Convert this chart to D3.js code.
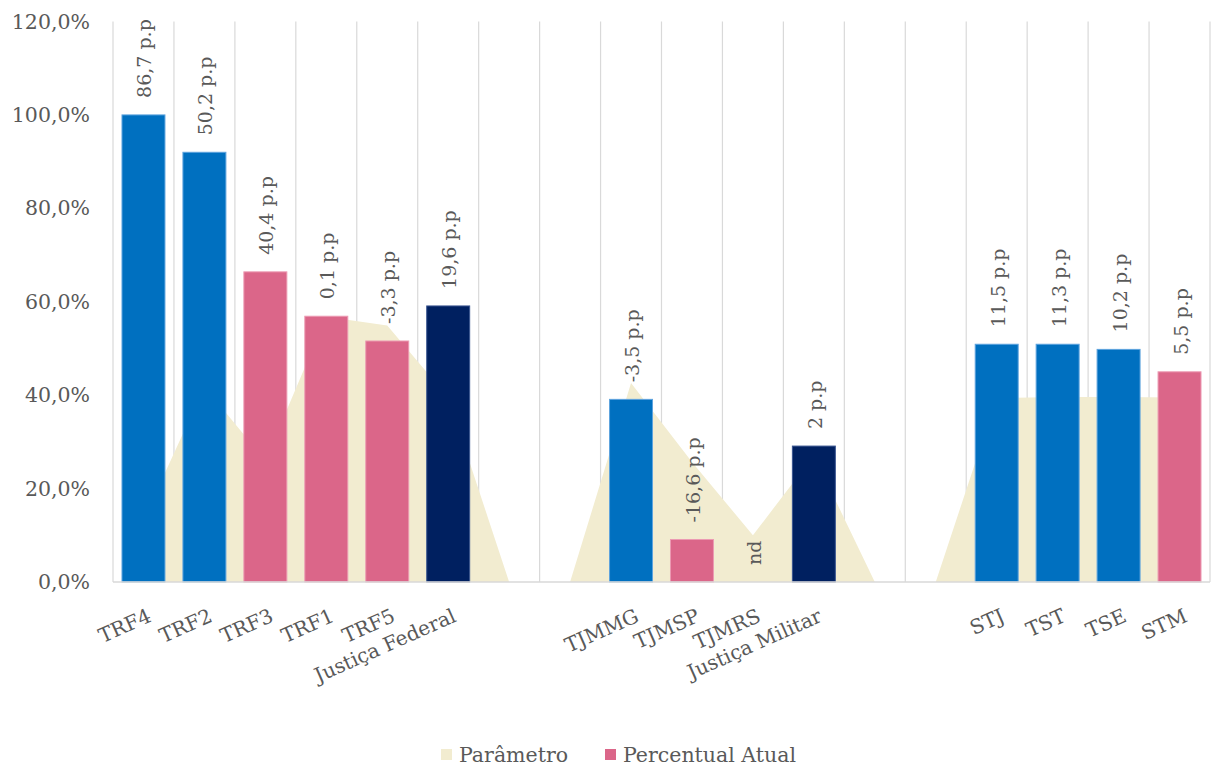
<!DOCTYPE html>
<html><head><meta charset="utf-8">
<script src="https://cdn.jsdelivr.net/npm/d3@7"></script>
<style>
html,body{margin:0;padding:0;background:#fff;}
svg{display:block;}
text{font-family:"DejaVu Serif","Liberation Serif",serif;fill:#595959;}
</style></head>
<body>
<svg id="chart" width="1211" height="766"></svg>
<script>
// ---- data ----
const categories = ["TRF4","TRF2","TRF3","TRF1","TRF5","Justiça Federal","","","TJMMG","TJMSP","TJMRS","Justiça Militar","","","STJ","TST","TSE","STM"];
const percentualAtual = [100.0, 92.0, 66.4, 56.9, 51.6, 59.1, null, null, 39.1, 9.1, null, 29.1, null, null, 50.9, 50.9, 49.8, 45.0];
const parametro = [13.3, 41.8, 26.0, 56.8, 54.9, 39.5, 0, 0, 42.6, 25.7, 10.0, 27.1, 0, 0, 39.4, 39.6, 39.6, 39.5];
const rotulos = ["86,7 p.p","50,2 p.p","40,4 p.p","0,1 p.p","-3,3 p.p","19,6 p.p","","","-3,5 p.p","-16,6 p.p","nd","2 p.p","","","11,5 p.p","11,3 p.p","10,2 p.p","5,5 p.p"];
const grupo = ["acima","acima","atual","atual","atual","total","","","acima","atual","","total","","","acima","acima","acima","atual"];
const yTicks = [0, 20, 40, 60, 80, 100, 120];
const legendItems = ["Parâmetro","Percentual Atual"];

// ---- layout ----
const svg = d3.select("#chart");
const L = 113, R = 1210, T = 21.5, B = 582;
const idx = categories.map((_, i) => i);
const x = d3.scaleBand().domain(idx).range([L, R]).paddingInner(0.3).paddingOuter(0.15);
const xc = i => x(i) + x.bandwidth() / 2;
const step = x.step();
const y = d3.scaleLinear().domain([0, 120]).range([B, T]);
const color = d3.scaleOrdinal().domain(["acima","atual","total"]).range(["#0070C0","#DB6689","#002060"]);
const stroke = d3.scaleOrdinal().domain(["acima","atual","total"]).range(["#5DA3DE","#EC9AB2","#3A5590"]);

// vertical gridlines at category boundaries
const bounds = d3.range(categories.length + 1).map(k => L + k * (R - L) / categories.length);
svg.append("g").selectAll("line").data(bounds).join("line")
  .attr("x1", d => d).attr("x2", d => d).attr("y1", T).attr("y2", B)
  .attr("stroke", "#D9D9D9").attr("stroke-width", 1.2);

// x band recalculated so centers match boundaries
const xs = d3.scaleBand().domain(idx).range([L, R]).paddingInner(0.3).paddingOuter(0.15);
const cx = i => L + (i + 0.5) * (R - L) / categories.length;
const bw = (R - L) / categories.length * 0.705;

// area (Parâmetro)
const area = d3.area().x((d, i) => cx(i)).y0(y(0)).y1(d => y(d));
svg.append("path").datum(parametro).attr("d", area).attr("fill", "#F2ECD0");

// bars
svg.append("g").selectAll("rect").data(percentualAtual.map((v, i) => ({v, i}))).join("rect")
  .filter(d => d.v != null)
  .attr("x", d => cx(d.i) - bw / 2).attr("width", bw)
  .attr("y", d => y(d.v)).attr("height", d => y(0) - y(d.v))
  .attr("fill", d => color(grupo[d.i]))
  .attr("stroke", d => stroke(grupo[d.i])).attr("stroke-width", 1);

// x axis line
svg.append("line").attr("x1", L).attr("x2", R).attr("y1", B).attr("y2", B)
  .attr("stroke", "#D9D9D9").attr("stroke-width", 1.5);

// data labels
svg.append("g").selectAll("text").data(rotulos.map((t, i) => ({t, i}))).join("text")
  .filter(d => d.t !== "")
  .attr("transform", d => {
    const v = percentualAtual[d.i] == null ? 0 : percentualAtual[d.i];
    return `translate(${cx(d.i) + 1},${y(v) - 17}) rotate(-90)`;
  })
  .attr("text-anchor", "start").attr("dominant-baseline", "central")
  .style("font-size", "19px")
  .text(d => d.t);

// y axis labels
const fmt = v => d3.format(".1f")(v).replace(".", ",") + "%";
svg.append("g").selectAll("text").data(yTicks).join("text")
  .attr("x", 90).attr("y", d => y(d)).attr("text-anchor", "end").attr("dominant-baseline", "central")
  .style("font-size", "20.5px").text(fmt);

// category labels
svg.append("g").selectAll("text").data(categories.map((c, i) => ({c, i}))).join("text")
  .filter(d => d.c !== "")
  .attr("transform", d => `translate(${cx(d.i) + 3},${607}) rotate(-24)`)
  .attr("text-anchor", "end").attr("dominant-baseline", "hanging")
  .style("font-size", "20px").text(d => d.c);

// legend
const lg = svg.append("g");
const lx = [441, 605];
const lcol = ["#F2ECD0", "#DB6689"];
legendItems.forEach((t, k) => {
  lg.append("rect").attr("x", lx[k]).attr("y", 749).attr("width", 11).attr("height", 11).attr("fill", lcol[k]);
  lg.append("text").attr("x", lx[k] + 18).attr("y", 755).attr("dominant-baseline", "central")
    .style("font-size", "20.5px").text(t);
});
</script>
</body></html>
